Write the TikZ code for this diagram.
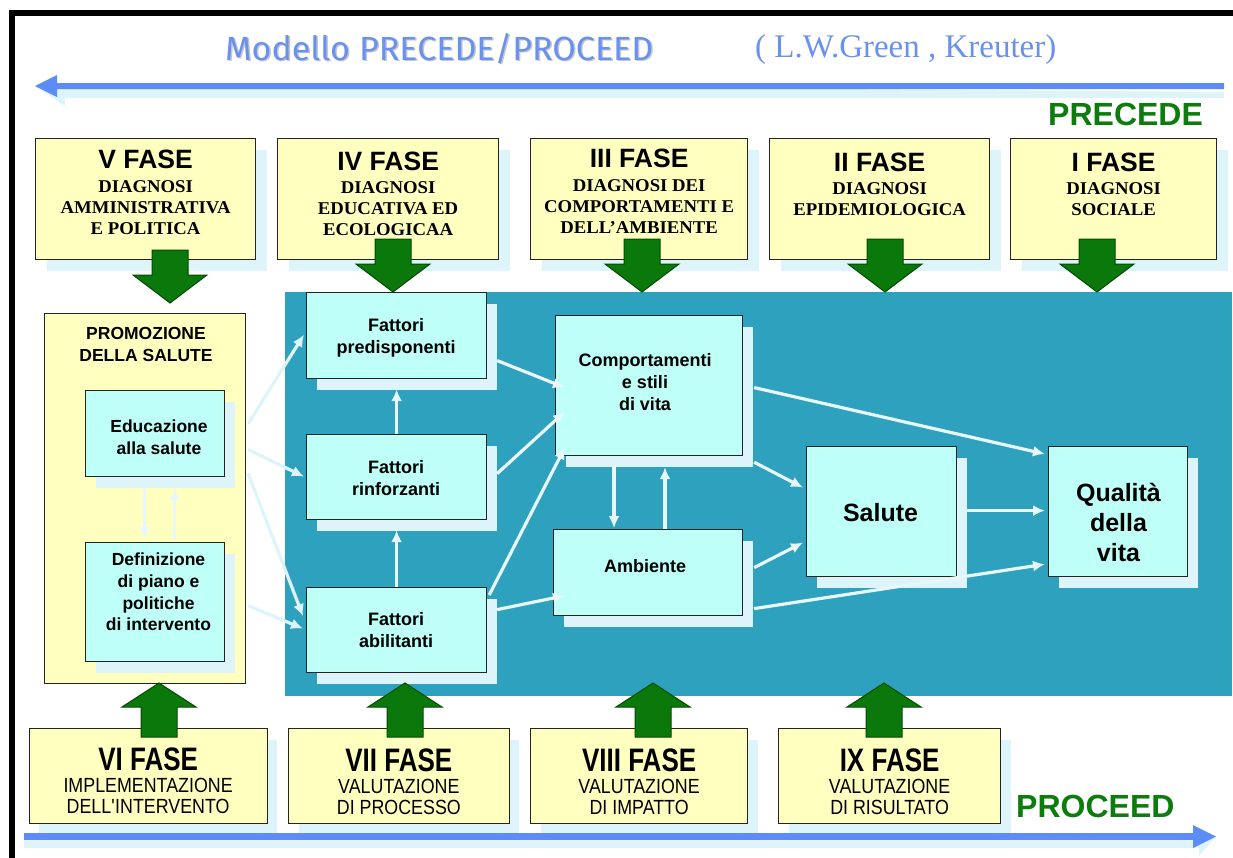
\documentclass[tikz,border=0pt]{standalone}
\usepackage{fontspec}
\usepackage{graphicx}
\setmainfont{Liberation Sans}
\newfontfamily\fSerifWide{Liberation Serif}[FakeStretch=1.04]
\newfontfamily\fSansNarrow{Liberation Sans}[FakeStretch=0.8]
\newfontfamily\fSansCond{Liberation Sans}[FakeStretch=0.87]
\newfontfamily\fSerif{Liberation Serif}
\newfontfamily\fHand{Fira Sans}
\usetikzlibrary{shadows,calc,arrows.meta}

\definecolor{phaseyellow}{RGB}{255,255,192}
\definecolor{boxcyan}{RGB}{190,255,247}
\definecolor{shadowcyan}{RGB}{221,244,250}
\definecolor{panelteal}{RGB}{46,161,190}
\definecolor{boxline}{RGB}{35,35,35}
\definecolor{flowwhite}{RGB}{232,247,250}
\definecolor{arrowblue}{RGB}{92,140,247}
\definecolor{titleblue}{RGB}{104,145,242}
\definecolor{arrowgreen}{RGB}{10,120,10}
\definecolor{arrowgreenD}{RGB}{0,75,0}
\definecolor{labelgreen}{RGB}{12,125,12}

\tikzset{
  boxbase/.style={draw=boxline, line width=1.2pt, inner sep=0pt, anchor=north west},
  shadowA/.style={drop shadow={shadow xshift=11pt, shadow yshift=-12pt, fill=shadowcyan, opacity=1}},
  shadowB/.style={drop shadow={shadow xshift=10pt, shadow yshift=-11pt, fill=shadowcyan, opacity=1}},
  phasetop/.style={boxbase, fill=phaseyellow, shadowA},
  phasebot/.style={boxbase, fill=phaseyellow, shadowB},
  cyanbox/.style={boxbase, fill=boxcyan, shadowB},
  promobox/.style={boxbase, fill=phaseyellow},
  ttl/.style={font=\fontsize{26.5}{30}\selectfont\bfseries, inner sep=0pt, anchor=base},
  subT/.style={font=\fSerifWide\fontsize{18}{21}\selectfont\bfseries, align=center, inner sep=0pt, anchor=north},
  ttlB/.style={font=\fSansNarrow\fontsize{32.5}{36}\selectfont\bfseries, inner sep=0pt, anchor=base},
  subB/.style={font=\fSansCond\fontsize{20.5}{21}\selectfont, align=center, inner sep=0pt, anchor=north},
  lbl/.style={font=\fontsize{18}{21.7}\selectfont\bfseries, align=center, inner sep=0pt},
  lblP/.style={font=\fontsize{17.5}{21.8}\selectfont\bfseries, align=center, inner sep=0pt},
  lblL/.style={font=\fontsize{25}{30}\selectfont\bfseries, align=center, inner sep=0pt},
  blockgreen/.style={fill=arrowgreen, draw=arrowgreenD, line width=1pt, line join=miter},
  flowT/.style={draw=flowwhite, line width=3.2pt, -{Latex[length=12pt, width=11pt]}},
  flowY/.style={flowT, draw=shadowcyan},
  pics/downblock/.style={code={
    \draw[blockgreen] (-18,0) -- (18,0) -- (18,25) -- (37,25) -- (0,53) -- (-37,25) -- (-18,25) -- cycle;}},
  pics/upblock/.style={code={
    \draw[blockgreen] (0,0) -- (37,24) -- (18,24) -- (18,54) -- (-18,54) -- (-18,24) -- (-37,24) -- cycle;}},
}

\begin{document}
\begin{tikzpicture}[x=1pt, y=-1pt]
\useasboundingbox (0,0) rectangle (1233,857);

% outer frame
\draw[line width=6pt] (12,870) -- (12,13) -- (1245,13);

% heading
\node[anchor=base west, inner sep=0pt, text=gray!45] (titleShade) at (226.5,61.5)
  {\resizebox{428pt}{27pt}{\fHand Modello PRECEDE/PROCEED}};
\node[anchor=base west, inner sep=0pt, text=titleblue] (title) at (225,60)
  {\resizebox{428pt}{27pt}{\fHand Modello PRECEDE/PROCEED}};
\node[anchor=base west, inner sep=0pt, text=titleblue, font=\fSerif\fontsize{33}{36}\selectfont] (authors) at (755,57)
  {( L.W.Green , Kreuter)};

% PRECEDE arrow (right to left) with its shadow
\coordinate (precTip) at (35,86);
\coordinate (precEnd) at (1224,86);
\fill[shadowcyan, shift={(8,9)}] (precTip) -- ++(22,-11) -- ++(0,8) -- (precEnd |- 0,83) -- (precEnd |- 0,89) -- (57,89) -- (57,97) -- cycle;
\fill[arrowblue] (precTip) -- ++(22,-11) -- ++(0,8) -- (precEnd |- 0,83) -- (precEnd |- 0,89) -- (57,89) -- (57,97) -- cycle;
\node[anchor=base west, inner sep=0pt, text=labelgreen, font=\fontsize{32}{36}\selectfont\bfseries] (precede) at (1048,125) {PRECEDE};

% diagnosis phases (top row)
\node[phasetop, minimum width=220pt, minimum height=121pt] (f5) at (35,137.5) {};
\node[phasetop, minimum width=221pt, minimum height=121pt] (f4) at (277,137.5) {};
\node[phasetop, minimum width=217pt, minimum height=121pt] (f3) at (530,137.5) {};
\node[phasetop, minimum width=220pt, minimum height=121pt] (f2) at (769,137.5) {};
\node[phasetop, minimum width=206pt, minimum height=121pt] (f1) at (1010,137.5) {};

\node[ttl] (f5t) at ($(f5.north)+(0,31)$) {V FASE};
\node[subT] (f5s) at ($(f5.north)+(0,42.5)$) {DIAGNOSI\\AMMINISTRATIVA\\E POLITICA};
\node[ttl] (f4t) at ($(f4.north)+(0,32.5)$) {IV FASE};
\node[subT] (f4s) at ($(f4.north)+(0,44)$) {DIAGNOSI\\EDUCATIVA ED\\ECOLOGICAA};
\node[ttl] (f3t) at ($(f3.north)+(0,30)$) {III FASE};
\node[subT] (f3s) at ($(f3.north)+(0,41.5)$) {DIAGNOSI DEI\\COMPORTAMENTI E\\DELL’AMBIENTE};
\node[ttl] (f2t) at ($(f2.north)+(0,33.5)$) {II FASE};
\node[subT] (f2s) at ($(f2.north)+(0,45)$) {DIAGNOSI\\EPIDEMIOLOGICA};
\node[ttl] (f1t) at ($(f1.north)+(0,33.5)$) {I FASE};
\node[subT] (f1s) at ($(f1.north)+(0,45)$) {DIAGNOSI\\SOCIALE};

% central panel
\node[fill=panelteal, inner sep=0pt, anchor=north west, minimum width=947pt, minimum height=404pt] (panel) at (285,292) {};

% health promotion column
\node[promobox, minimum width=201pt, minimum height=370pt] (promo) at (44,313) {};
\node[lblP] (promoT) at (146,344.5) {PROMOZIONE\\DELLA SALUTE};
\node[cyanbox, minimum width=139pt, minimum height=86pt] (edu) at (85,390) {};
\node[lblP] (eduT) at (159,437.5) {Educazione\\alla salute};
\node[cyanbox, minimum width=139pt, minimum height=119pt] (defi) at (85,542) {};
\node[lblP] (defiT) at (158.5,592) {Definizione\\di piano e\\politiche\\di intervento};

% factors and outcomes
\node[cyanbox, minimum width=180pt, minimum height=86pt] (pred) at (306,292) {};
\node[lbl] (predT) at (396,338) {Fattori\\predisponenti};
\node[cyanbox, minimum width=180pt, minimum height=85pt] (rinf) at (306,434) {};
\node[lbl] (rinfT) at (396,478) {Fattori\\rinforzanti};
\node[cyanbox, minimum width=180pt, minimum height=85pt] (abil) at (306,587) {};
\node[lbl] (abilT) at (396,630) {Fattori\\abilitanti};
\node[cyanbox, minimum width=187pt, minimum height=140pt] (comp) at (555,315) {};
\node[lbl] (compT) at (645,382) {Comportamenti\\e stili\\di vita};
\node[cyanbox, minimum width=189pt, minimum height=86pt] (amb) at (553,529) {};
\node[lbl] (ambT) at (645,566.5) {Ambiente};
\node[cyanbox, minimum width=150pt, minimum height=130pt] (sal) at (806,446) {};
\node[lblL] (salT) at (880.5,513) {Salute};
\node[cyanbox, minimum width=139pt, minimum height=130pt] (qual) at (1048,446) {};
\node[lblL] (qualT) at (1118.5,522.5) {Qualità\\della\\vita};

% links inside the promotion column
\draw[flowT] ($(edu.south)+(-10.5,10)$) -- ($(defi.north)+(-10.5,-3)$);
\draw[flowT] ($(defi.north)+(19.5,-2)$) -- ($(edu.south)+(19.5,11)$);

% links from the promotion column to the factors
\draw[flowY] ($(promo.east |- edu.east)+(2,-10)$) -- ($(pred.west)+(-2,-1)$);
\draw[flowY] ($(promo.east |- edu.east)+(2,16)$) -- ($(rinf.west)+(-2,-0.5)$);
\draw[flowY] ($(promo.east |- edu.east)+(2,40)$) -- ($(abil.west)+(-3,-14)$);
\draw[flowY] ($(promo.east |- defi.east)+(2,3.5)$) -- ($(abil.west)+(-3,-1.5)$);

% links between the factors
\draw[flowT] (rinf.north) -- ($(pred.south)+(0,10)$);
\draw[flowT] (abil.north) -- ($(rinf.south)+(0,10)$);
\draw[flowT] ($(pred.east)+(10,25)$) -- ($(comp.west)+(10,2)$);
\draw[flowT] ($(rinf.east)+(10,-3.5)$) -- ($(comp.west)+(10,26)$);
\draw[flowT] ($(abil.north east)+(2,8)$) -- ($(comp.south west)+(10,-9)$);
\draw[flowT] ($(abil.east)+(10,-20.5)$) -- ($(amb.west)+(12,23)$);
\draw[flowT] ($(comp.south west)+(59,10)$) -- ($(amb.north west)+(61,-1)$);
\draw[flowT] ($(amb.north west)+(112,0)$) -- ($(comp.south west)+(110,11)$);
\draw[flowT] ($(comp.east)+(11,2)$) -- ($(qual.north west)+(-3,8)$);
\draw[flowT] ($(comp.south east)+(11,6)$) -- ($(sal.west)+(-3,-24)$);
\draw[flowT] ($(amb.east)+(11,-5)$) -- ($(sal.west)+(-3,31)$);
\draw[flowT] ($(amb.east)+(11,36)$) -- ($(qual.south west)+(-3,-13)$);
\draw[flowT] ($(sal.east)+(10,-1)$) -- ($(qual.west)+(-3,-1)$);

% green block arrows from the diagnosis phases
\pic at (170,250) {downblock};
\pic at (393,239) {downblock};
\pic at (642,239) {downblock};
\pic at (885,239) {downblock};
\pic at (1097,239) {downblock};

% evaluation phases (bottom row)
\node[phasebot, minimum width=238pt, minimum height=95pt] (f6) at (28.5,728) {};
\node[phasebot, minimum width=220.5pt, minimum height=95pt] (f7) at (288,728) {};
\node[phasebot, minimum width=217pt, minimum height=95pt] (f8) at (530,728) {};
\node[phasebot, minimum width=222pt, minimum height=95pt] (f9) at (778,728) {};

\node[ttlB] (f6t) at ($(f6.north)+(0,42)$) {VI FASE};
\node[subB] (f6s) at ($(f6.north)+(0,49.5)$) {IMPLEMENTAZIONE\\DELL\textquotesingle INTERVENTO};
\node[ttlB] (f7t) at ($(f7.north)+(0,43)$) {VII FASE};
\node[subB] (f7s) at ($(f7.north)+(0,51)$) {VALUTAZIONE\\DI PROCESSO};
\node[ttlB] (f8t) at ($(f8.north)+(0,43)$) {VIII FASE};
\node[subB] (f8s) at ($(f8.north)+(0,51)$) {VALUTAZIONE\\DI IMPATTO};
\node[ttlB] (f9t) at ($(f9.north)+(0,43)$) {IX FASE};
\node[subB] (f9s) at ($(f9.north)+(0,51)$) {VALUTAZIONE\\DI RISULTATO};

% green block arrows from the evaluation phases
\pic at (159,683) {upblock};
\pic at (405,683) {upblock};
\pic at (653,683) {upblock};
\pic at (884,683) {upblock};

% PROCEED arrow (left to right) with its shadow
\coordinate (procStart) at (24,836.5);
\coordinate (procTip) at (1216,836.5);
\fill[shadowcyan, shift={(6,8)}] (procStart |- 0,833) -- (1193,833) -- (1193,825) -- (procTip) -- (1193,848) -- (1193,840) -- (procStart |- 0,840) -- cycle;
\fill[arrowblue] (procStart |- 0,833) -- (1193,833) -- (1193,825) -- (procTip) -- (1193,848) -- (1193,840) -- (procStart |- 0,840) -- cycle;
\node[anchor=base west, inner sep=0pt, text=labelgreen, font=\fontsize{32}{36}\selectfont\bfseries] (proceed) at (1016,817) {PROCEED};

\end{tikzpicture}
\end{document}
